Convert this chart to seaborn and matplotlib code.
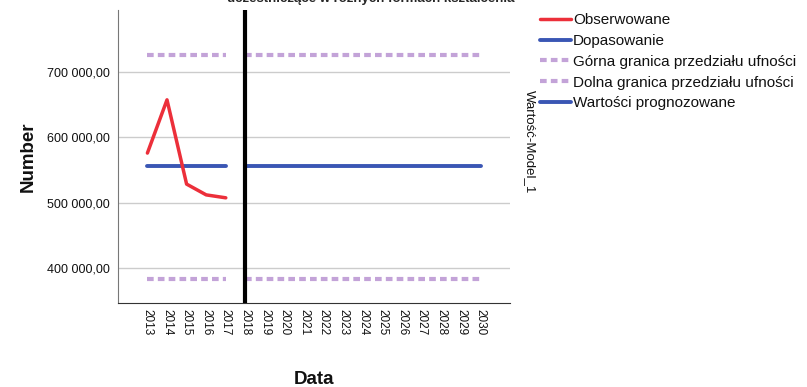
import pandas as pd
import matplotlib.pyplot as plt
import seaborn as sns

# dane
years_obs = [2013, 2014, 2015, 2016, 2017]
observed = [576000, 657500, 528500, 512000, 507500]
fitted = [555800, 555800, 555800, 555800, 555800]
years_fc = [2018, 2019, 2020, 2021, 2022, 2023, 2024, 2025, 2026, 2027, 2028, 2029, 2030]
forecast = [555800, 555800, 555800, 555800, 555800, 555800, 555800,
            555800, 555800, 555800, 555800, 555800, 555800]
upper_obs = [726500, 726500, 726500, 726500, 726500]
lower_obs = [383500, 383500, 383500, 383500, 383500]
upper_fc = [726500, 726500, 726500, 726500, 726500, 726500, 726500,
            726500, 726500, 726500, 726500, 726500, 726500]
lower_fc = [383500, 383500, 383500, 383500, 383500, 383500, 383500,
            383500, 383500, 383500, 383500, 383500, 383500]
tick_years = list(range(2013, 2031))
y_ticks = [400000, 500000, 600000, 700000]
split_year = 2018

sns.set_style("white")
plt.rcParams['font.family'] = ['Liberation Sans', 'DejaVu Sans']

red = '#ec2f3a'
blue = '#3a56b4'
lilac = '#c3a3d8'
dotted = (0, (1.6, 1.0))

fig = plt.figure(figsize=(8.07, 3.87), dpi=100)
ax = fig.add_axes([118 / 807, 1 - 303 / 387, (510 - 118) / 807, (303 - 10) / 387])

for y in y_ticks:
    ax.axhline(y, color='#cccccc', lw=1, zorder=0)

sns.lineplot(x=years_obs, y=upper_obs, ax=ax, color=lilac, lw=3, linestyle=dotted,
             dash_capstyle='butt', label='Górna granica przedziału ufności')
sns.lineplot(x=years_fc, y=upper_fc, ax=ax, color=lilac, lw=3, linestyle=dotted,
             dash_capstyle='butt')
sns.lineplot(x=years_obs, y=lower_obs, ax=ax, color=lilac, lw=3, linestyle=dotted,
             dash_capstyle='butt', label='Dolna granica przedziału ufności')
sns.lineplot(x=years_fc, y=lower_fc, ax=ax, color=lilac, lw=3, linestyle=dotted,
             dash_capstyle='butt')
sns.lineplot(x=years_obs, y=fitted, ax=ax, color=blue, lw=2.8, label='Dopasowanie')
sns.lineplot(x=years_fc, y=forecast, ax=ax, color=blue, lw=2.8, label='Wartości prognozowane')
sns.lineplot(x=years_obs, y=observed, ax=ax, color=red, lw=2.5, label='Obserwowane')

ax.axvline(split_year, color='black', lw=3, zorder=5)

ax.set_xlim(2011.5, 2031.5)
ax.set_ylim(346500, 795000)
ax.set_xticks(tick_years)
ax.set_xticklabels([str(t) for t in tick_years], rotation=270, fontsize=8.5)
ax.set_yticks(y_ticks)
ax.set_yticklabels([f"{v:,.2f}".replace(',', ' ').replace('.', ',') for v in y_ticks], fontsize=9)
ax.tick_params(axis='y', length=0, pad=6, labelcolor='#111111')
ax.tick_params(axis='x', length=0, pad=4, labelcolor='#111111')
ax.set_xlabel('Data', fontsize=13.5, fontweight='bold', labelpad=26, color='#111111')
ax.set_ylabel('Number', fontsize=13.5, fontweight='bold', labelpad=7, color='#111111')

sns.despine(ax=ax)
ax.spines['left'].set_color('#777777')
ax.spines['bottom'].set_color('#333333')

handles, labels = ax.get_legend_handles_labels()
order = ['Obserwowane', 'Dopasowanie', 'Górna granica przedziału ufności',
         'Dolna granica przedziału ufności', 'Wartości prognozowane']
hmap = dict(zip(labels, handles))
ax.legend_.remove()
fig.legend([hmap[l] for l in order], order, loc='upper left',
           bbox_to_anchor=(540 / 807, 1 - 13 / 387), frameon=False, fontsize=11,
           handlelength=2.0, handletextpad=0.15, labelspacing=0.45, borderaxespad=0,
           borderpad=0, labelcolor='#111111')

fig.text(530 / 807, 1 - 142 / 387, 'Wartość-Model_1', rotation=270,
         ha='center', va='center', fontsize=9.5, color='#111111')
fig.text(371 / 807, 1 - 2 / 387, 'uczestniczące w różnych formach kształcenia',
         ha='center', va='baseline', fontsize=9.5, fontweight='bold')

fig.savefig('out.png', dpi=100)
